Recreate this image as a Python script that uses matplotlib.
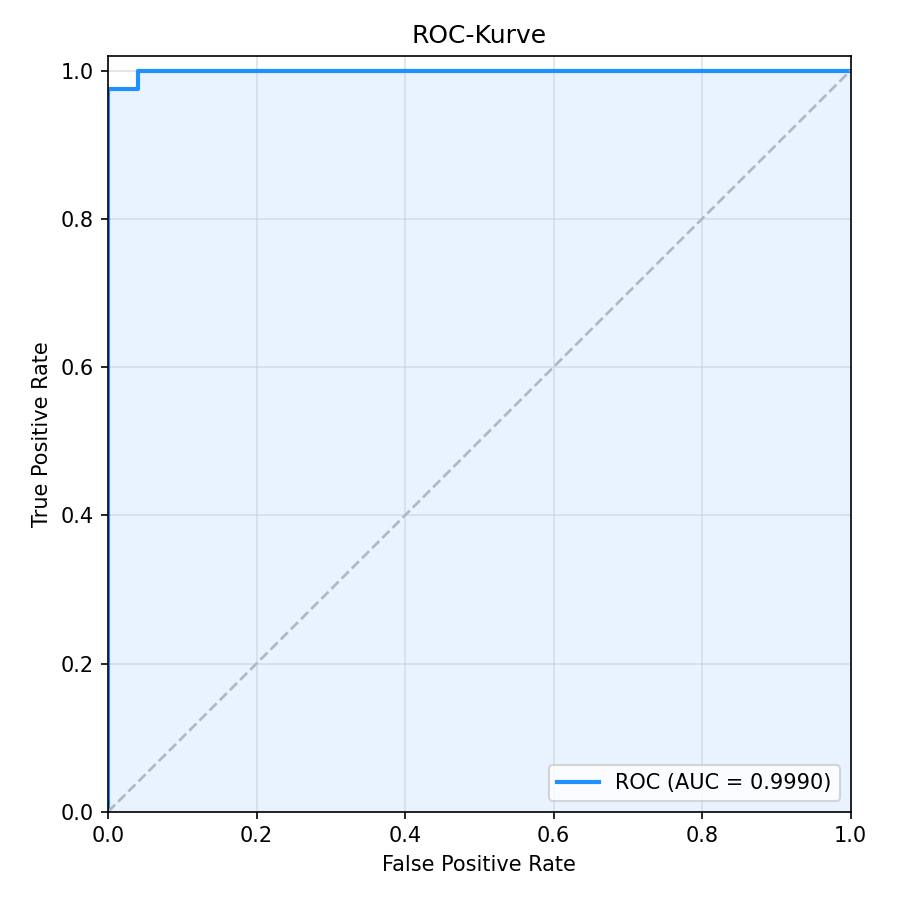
import matplotlib.pyplot as plt

# ROC points
fpr = [0.0, 0.0, 0.0, 0.04, 0.04, 1.0]
tpr = [0.0, 0.975, 0.975, 0.975, 1.0, 1.0]
auc_value = 0.9990

fig, ax = plt.subplots(figsize=(6, 6), dpi=150)
fig.subplots_adjust(left=0.12, right=0.945, bottom=0.098, top=0.938)

ax.fill_between(fpr, tpr, color="#1E90FF", alpha=0.1, linewidth=0)
ax.plot(fpr, tpr, color="#1E90FF", linewidth=2, label=f"ROC (AUC = {auc_value:.4f})")
ax.plot([0, 1], [0, 1], linestyle="--", color="#b0b8c4", linewidth=1.3)

ax.set_xlim(0, 1)
ax.set_ylim(0, 1.02)
ax.grid(True, color="#c8d0d8", alpha=0.6)
ax.set_title("ROC-Kurve", fontsize=12)
ax.set_xlabel("False Positive Rate")
ax.set_ylabel("True Positive Rate")
ax.legend(loc="lower right")

plt.savefig("out.png")
